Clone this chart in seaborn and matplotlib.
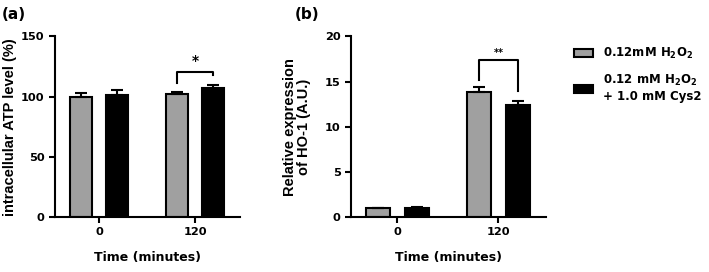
import pandas as pd
import matplotlib
matplotlib.use("Agg")
import matplotlib.pyplot as plt
import seaborn as sns

# data
times = ["0", "120"]
group_labels = ["0.12mM H$_\\mathbf{2}$O$_\\mathbf{2}$",
                "0.12 mM H$_\\mathbf{2}$O$_\\mathbf{2}$\n+ 1.0 mM Cys2"]

atp_h2o2 = [100.0, 102.0]
atp_cys2 = [101.7, 107.0]
atp_h2o2_err = [3.4, 1.9]
atp_cys2_err = [3.8, 2.7]

ho1_h2o2 = [1.0, 13.9]
ho1_cys2 = [1.0, 12.4]
ho1_h2o2_err = [0.05, 0.45]
ho1_cys2_err = [0.06, 0.4]

colors = ["#a0a0a0", "#000000"]

plt.rcParams["font.family"] = "DejaVu Sans"
plt.rcParams["font.weight"] = "bold"
plt.rcParams["axes.labelweight"] = "bold"
plt.rcParams["mathtext.fontset"] = "dejavusans"

LW = 1.5


def make_df(v1, v2):
    return pd.DataFrame({
        "time": times * 2,
        "group": ["g1"] * 2 + ["g2"] * 2,
        "value": list(v1) + list(v2),
    })


def draw_panel(ax, df, errs, width, gap, ylim, yticks, ylabel, ylab_x):
    sns.barplot(data=df, x="time", y="value", hue="group",
                hue_order=["g1", "g2"], palette=colors, errorbar=None,
                width=width, gap=gap, edgecolor="black", linewidth=LW,
                legend=False, ax=ax)
    centers = []
    for cont, err in zip(ax.containers, errs):
        xs = [p.get_x() + p.get_width() / 2 for p in cont.patches]
        ys = [p.get_height() for p in cont.patches]
        ax.errorbar(xs, ys, yerr=[[0] * len(err), err], fmt="none",
                    ecolor="black", elinewidth=LW, capsize=4, capthick=LW)
        centers.append(xs)
    ax.set_ylim(*ylim)
    ax.set_yticks(yticks)
    ax.set_xlim(-0.46, 1.47)
    ax.set_xlabel("Time (minutes)", fontsize=9, labelpad=10)
    ax.set_ylabel(ylabel, fontsize=10.5, family="Liberation Sans",
                  fontweight="bold", linespacing=1.0)
    ax.yaxis.set_label_coords(ylab_x, 0.5)
    sns.despine(ax=ax)
    for s in ["left", "bottom"]:
        ax.spines[s].set_linewidth(LW)
    ax.tick_params(width=LW, length=4, labelsize=8.2)
    return centers


fig = plt.figure(figsize=(7.09, 2.72), dpi=100)
ax1 = fig.add_axes([0.0776, 0.202, 0.261, 0.664])
ax2 = fig.add_axes([0.495, 0.202, 0.275, 0.664])

c1 = draw_panel(ax1, make_df(atp_h2o2, atp_cys2), [atp_h2o2_err, atp_cys2_err],
                0.74, 0.38, (0, 150), [0, 50, 100, 150],
                "intracellular ATP level (%)", -0.208)
c2 = draw_panel(ax2, make_df(ho1_h2o2, ho1_cys2), [ho1_h2o2_err, ho1_cys2_err],
                0.76, 0.37, (0, 20), [0, 5, 10, 15, 20],
                "Relative expression\nof HO-1 (A.U.)", -0.207)

# significance brackets
x1, x2 = c1[0][1], c1[1][1]
ax1.plot([x1, x1, x2, x2], [111.3, 120.4, 120.4, 117.7], color="black", lw=LW)
ax1.text((x1 + x2) / 2, 124, "*", ha="center", va="bottom", fontsize=10)

x1, x2 = c2[0][1], c2[1][1]
ax2.plot([x1, x1, x2, x2], [15.2, 17.4, 17.4, 14.0], color="black", lw=LW)
ax2.text((x1 + x2) / 2, 17.6, "**", ha="center", va="bottom", fontsize=7)

fig.text(0.003, 0.975, "(a)", fontsize=11, fontweight="bold", va="top")
fig.text(0.416, 0.975, "(b)", fontsize=11, fontweight="bold", va="top")

handles = [c.patches[0] for c in ax2.containers[:2]]
fig.legend(handles, group_labels,
           loc="upper left", bbox_to_anchor=(0.795, 0.87), frameon=False,
           handlelength=1.6, handleheight=0.6,
           labelspacing=1.0, handletextpad=0.8,
           prop={"weight": "bold", "size": 8.5})

fig.savefig("out.png", dpi=100)
